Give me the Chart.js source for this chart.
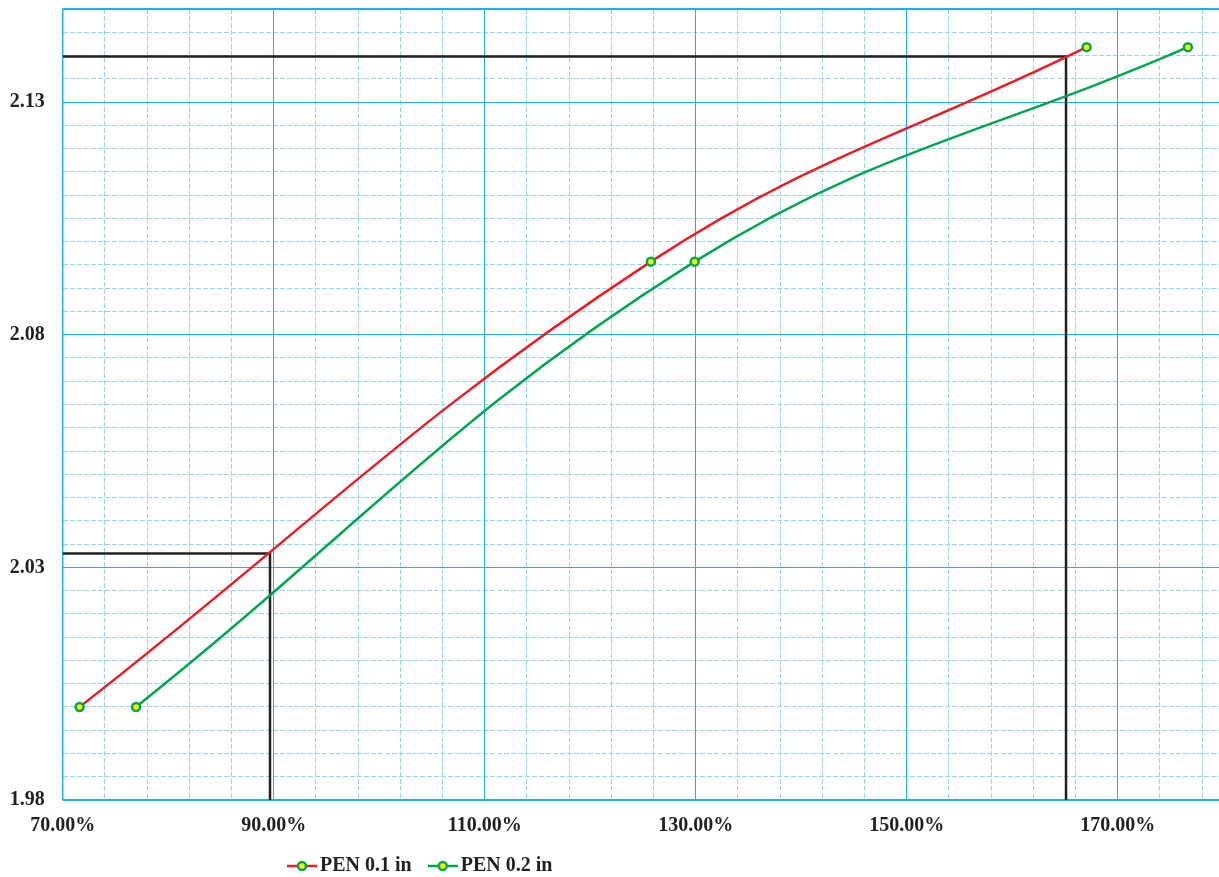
<!DOCTYPE html>
<html>
<head>
<meta charset="utf-8">
<script src="https://cdn.jsdelivr.net/npm/chart.js@4.4.1/dist/chart.umd.min.js"></script>
<style>
  html, body { margin: 0; padding: 0; background: #ffffff; }
  #wrap { width: 1219px; height: 877px; position: relative; }
</style>
</head>
<body>
<div id="wrap"><canvas id="c" width="1219" height="877"></canvas></div>
<script>
// ---- data ----
const seriesNames = ['PEN 0.1 in', 'PEN 0.2 in'];
const pen01X = [71.6, 125.75, 167.05];
const pen01Y = [2.0, 2.0957, 2.1418];
const pen02X = [76.95, 129.9, 176.65];
const pen02Y = [2.0, 2.0957, 2.1418];
const refLowX = [70, 89.65, 89.65];
const refLowY = [2.033, 2.033, 1.98];
const refHighX = [70, 165.1, 165.1];
const refHighY = [2.1398, 2.1398, 1.98];
const xMajorTicks = [70, 90, 110, 130, 150, 170];
const xMinorTicks = [70,74,78,82,86,90,94,98,102,106,110,114,118,122,126,130,134,138,142,146,150,154,158,162,166,170,174,178];
const yMajorTicks = [1.98, 2.03, 2.08, 2.13];
const yMinorTicks = [1.98,1.985,1.99,1.995,2.0,2.005,2.01,2.015,2.02,2.025,2.03,2.035,2.04,2.045,2.05,2.055,2.06,2.065,2.07,2.075,2.08,2.085,2.09,2.095,2.1,2.105,2.11,2.115,2.12,2.125,2.13,2.135,2.14,2.145,2.15];
const xMin = 70, xMax = 179.6, yMin = 1.98, yMax = 2.15;

const toPts = (xs, ys) => xs.map((x, i) => ({x: x, y: ys[i]}));

const RED = '#ed1c24', GREEN = '#00a651', YELLOW = '#fff200', BLACK = '#231f20';
const MAJOR = '#29abe2', MINOR = '#93d5f2';
const FONT = {family: "'Liberation Serif', 'Times New Roman', serif", size: 20, weight: 'bold'};

function legendIcon(color) {
  const cv = document.createElement('canvas');
  cv.width = 30; cv.height = 14;
  const g = cv.getContext('2d');
  g.strokeStyle = color; g.lineWidth = 2.5;
  g.beginPath(); g.moveTo(0, 7); g.lineTo(30, 7); g.stroke();
  g.beginPath(); g.arc(15, 7, 4, 0, Math.PI * 2);
  g.fillStyle = YELLOW; g.fill();
  g.strokeStyle = GREEN; g.lineWidth = 2.5; g.stroke();
  return cv;
}

const framePlugin = {
  id: 'frame',
  afterLayout(chart) {
    const lg = chart.legend;
    if (lg) {
      const h = lg.height;
      lg.left = 271; lg.right = 1219;
      lg.top = 833; lg.bottom = 833 + h;
    }
  },
  beforeDatasetsDraw(chart) {
    const {ctx, chartArea: a} = chart;
    ctx.save();
    ctx.strokeStyle = MAJOR;
    ctx.lineWidth = 2;
    ctx.beginPath();
    ctx.moveTo(a.left, a.top); ctx.lineTo(a.right, a.top);
    ctx.moveTo(a.left, a.bottom); ctx.lineTo(a.right, a.bottom);
    ctx.stroke();
    ctx.lineWidth = 1.5;
    ctx.beginPath();
    ctx.moveTo(a.left, a.top); ctx.lineTo(a.left, a.bottom);
    ctx.stroke();
    ctx.restore();
  }
};

const lineDs = (label, pts, color) => ({
  label: label, data: pts, borderColor: color, backgroundColor: YELLOW,
  borderWidth: 2.5, tension: 0.4, pointRadius: 4, pointBorderWidth: 2.5,
  pointBorderColor: GREEN, pointBackgroundColor: YELLOW, pointHoverRadius: 4,
  fill: false
});
const refDs = (pts) => ({
  label: '', data: pts, borderColor: BLACK, borderWidth: 2.5, tension: 0,
  pointRadius: 0, pointHoverRadius: 0, fill: false
});

const noPad = s => { s.paddingTop = 0; s.paddingBottom = 0; s.paddingLeft = 0; s.paddingRight = 0; };

new Chart(document.getElementById('c'), {
  type: 'line',
  data: {
    datasets: [
      lineDs(seriesNames[0], toPts(pen01X, pen01Y), RED),
      lineDs(seriesNames[1], toPts(pen02X, pen02Y), GREEN),
      refDs(toPts(refLowX, refLowY)),
      refDs(toPts(refHighX, refHighY))
    ]
  },
  options: {
    responsive: false,
    animation: false,
    devicePixelRatio: 1,
    layout: {autoPadding: false, padding: {top: 9, right: 0, left: 0, bottom: -16}},
    plugins: {
      tooltip: {enabled: false},
      legend: {
        position: 'bottom',
        align: 'start',
        labels: {
          font: FONT, color: BLACK, usePointStyle: true, pointStyleWidth: 16, boxHeight: 14,
          padding: 23,
          filter: (item) => item.datasetIndex < 2,
          generateLabels: (chart) => [0, 1].map(i => ({
            text: seriesNames[i], datasetIndex: i, fontColor: BLACK,
            pointStyle: legendIcon(i === 0 ? RED : GREEN), lineWidth: 0,
            strokeStyle: 'transparent', fillStyle: 'transparent', hidden: false
          }))
        }
      }
    },
    scales: {
      xMinor: {
        type: 'linear', position: 'bottom', min: xMin, max: xMax,
        afterBuildTicks: s => { s.ticks = xMinorTicks.map(v => ({value: v})); },
        afterFit: s => { s.height = 0; noPad(s); },
        grid: {color: MINOR, lineWidth: 1, drawTicks: false},
        border: {display: false, dash: [5, 2]},
        ticks: {display: false}
      },
      yMinor: {
        type: 'linear', position: 'left', min: yMin, max: yMax,
        afterBuildTicks: s => { s.ticks = yMinorTicks.map(v => ({value: v})); },
        afterFit: s => { s.width = 0; noPad(s); },
        grid: {color: MINOR, lineWidth: 1, drawTicks: false},
        border: {display: false, dash: [5, 2]},
        ticks: {display: false}
      },
      x: {
        type: 'linear', position: 'bottom', min: xMin, max: xMax,
        afterBuildTicks: s => { s.ticks = xMajorTicks.map(v => ({value: v})); },
        afterFit: s => { s.height = 40; noPad(s); },
        grid: {color: MAJOR, lineWidth: 1, drawTicks: false},
        border: {display: false},
        ticks: {
          font: FONT, color: BLACK, padding: 14, autoSkip: false, maxRotation: 0,
          callback: v => v.toFixed(2) + '%'
        }
      },
      y: {
        type: 'linear', position: 'left', min: yMin, max: yMax,
        afterBuildTicks: s => { s.ticks = yMajorTicks.map(v => ({value: v})); },
        afterFit: s => { s.width = 62.7; noPad(s); },
        grid: {color: MAJOR, lineWidth: 1, drawTicks: false},
        border: {display: false},
        ticks: {
          font: FONT, color: BLACK, padding: 18, autoSkip: false,
          callback: v => v.toFixed(2)
        }
      }
    }
  },
  plugins: [framePlugin]
});
</script>
</body>
</html>
